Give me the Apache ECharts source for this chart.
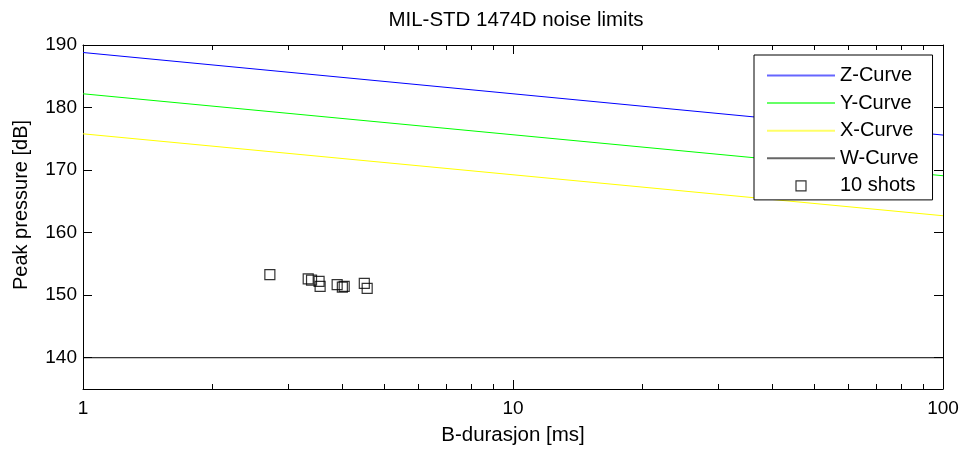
<!DOCTYPE html>
<html>
<head>
<meta charset="utf-8">
<script src="https://cdn.jsdelivr.net/npm/echarts@6/dist/echarts.min.js"></script>
<style>
html,body{margin:0;padding:0;background:#fff;}
#chart{width:963px;height:452px;}
</style>
</head>
<body>
<div id="chart"></div>
<script>
// ---- data ----
const titleText = 'MIL-STD 1474D noise limits';
const xName = 'B-durasjon [ms]';
const yName = 'Peak pressure [dB]';
const seriesNames = ['Z-Curve', 'Y-Curve', 'X-Curve', 'W-Curve', '10 shots'];
const seriesColors = ['#0000ff', '#00ff00', '#ffff00', '#000000'];
const curveX = [1, 100];
const zCurve = [188.8, 175.6];
const yCurve = [182.2, 169.1];
const xCurve = [175.8, 162.7];
const wCurve = [140, 140];
const shotsX = [2.72, 3.34, 3.40, 3.54, 3.56, 3.90, 4.01, 4.05, 4.51, 4.58];
const shotsY = [153.3, 152.6, 152.4, 152.2, 151.4, 151.7, 151.3, 151.4, 151.9, 151.1];
const xMinorTicks = [2, 3, 4, 5, 6, 7, 8, 9, 20, 30, 40, 50, 60, 70, 80, 90];
const yRange = [135, 190];
const xRange = [1, 100];

const FONT = '"Liberation Sans", Arial, Helvetica, sans-serif';
const pair = (xs, ys) => xs.map((x, i) => [x, ys[i]]);

const chart = echarts.init(document.getElementById('chart'), null, {renderer: 'canvas'});

const axisLineStyle = {color: '#000', width: 1};
const baseX = {
  type: 'log', logBase: 10, min: xRange[0], max: xRange[1],
  axisLine: {show: true, lineStyle: axisLineStyle},
  axisTick: {show: true, inside: true, length: 9, lineStyle: axisLineStyle},
  splitLine: {show: false},
  minorTick: {show: false},
  minorSplitLine: {show: false}
};
const baseY = {
  type: 'value', min: yRange[0], max: yRange[1], splitNumber: 5,
  axisLine: {show: true, lineStyle: axisLineStyle},
  axisTick: {show: true, inside: true, length: 9, lineStyle: axisLineStyle},
  splitLine: {show: false}
};

const lineSeries = (name, ys, color) => ({
  name, type: 'line', data: pair(curveX, ys), symbol: 'none',
  lineStyle: {color, width: 1}, itemStyle: {color},
  silent: true, animation: false, z: 2
});

chart.setOption({
  animation: false,
  backgroundColor: '#fff',
  textStyle: {fontFamily: FONT},
  title: {
    text: titleText, left: 516, top: 10, padding: 0, textAlign: 'center',
    textStyle: {fontFamily: FONT, fontSize: 20.5, fontWeight: 'normal', color: '#000'}
  },
  grid: {left: 83, top: 45, right: 20, bottom: 63, containLabel: false},
  xAxis: [
    Object.assign({}, baseX, {
      position: 'bottom', name: xName, nameLocation: 'middle', nameGap: 36,
      nameTextStyle: {fontFamily: FONT, fontSize: 20.5, color: '#000'},
      axisLabel: {show: true, margin: 10, color: '#000', fontFamily: FONT, fontSize: 19,
        formatter: v => String(v)}
    }),
    Object.assign({}, baseX, {position: 'top', axisLabel: {show: false}})
  ],
  yAxis: [
    Object.assign({}, baseY, {
      position: 'left', name: yName, nameLocation: 'middle', nameGap: 52,
      nameTextStyle: {fontFamily: FONT, fontSize: 20, color: '#000', padding: [0, 0, 0, 24]},
      axisLabel: {show: true, margin: 6, color: '#000', fontFamily: FONT, fontSize: 19,
        formatter: v => (v % 10 === 0 ? String(v) : '')}
    }),
    Object.assign({}, baseY, {position: 'right', axisLabel: {show: false}})
  ],
  legend: {
    left: 754, top: 55, orient: 'vertical',
    backgroundColor: '#fff', borderColor: '#000', borderWidth: 1, borderRadius: 0,
    padding: [10.5, 14, 4, 12],
    itemWidth: 68, itemHeight: 14, itemGap: 7.6,
    textStyle: {fontFamily: FONT, fontSize: 20, color: '#000', lineHeight: 20},
    selectedMode: false,
    data: seriesNames.slice(0, 4).map((n, i) => ({
      name: n,
      itemStyle: {opacity: 0},
      lineStyle: {color: seriesColors[i], width: 2, opacity: 0.6}
    })).concat([
      {name: seriesNames[4], icon: 'path://M0,0M14,14M2,2H12V12H2Z',
        itemStyle: {color: 'rgba(0,0,0,0)', borderColor: '#000', borderWidth: 1.2}}
    ])
  },
  series: [
    lineSeries(seriesNames[0], zCurve, seriesColors[0]),
    lineSeries(seriesNames[1], yCurve, seriesColors[1]),
    lineSeries(seriesNames[2], xCurve, seriesColors[2]),
    lineSeries(seriesNames[3], wCurve, seriesColors[3]),
    {
      name: seriesNames[4], type: 'scatter', data: pair(shotsX, shotsY),
      symbol: 'rect', symbolSize: 10,
      itemStyle: {color: 'rgba(0,0,0,0)', borderColor: '#000', borderWidth: 1.2},
      silent: true, z: 3
    },
    {
      name: 'minorTicks', type: 'custom', data: xMinorTicks.map(v => [v]),
      silent: true, z: 4,
      renderItem: function (params, api) {
        const v = api.value(0);
        const b = api.coord([v, yRange[0]]);
        const t = api.coord([v, yRange[1]]);
        const st = {stroke: '#000', lineWidth: 1};
        return {
          type: 'group',
          children: [
            {type: 'line', shape: {x1: Math.round(b[0]) + 0.5, y1: b[1], x2: Math.round(b[0]) + 0.5, y2: b[1] - 5}, style: st},
            {type: 'line', shape: {x1: Math.round(t[0]) + 0.5, y1: t[1], x2: Math.round(t[0]) + 0.5, y2: t[1] + 5}, style: st}
          ]
        };
      }
    }
  ]
});
</script>
</body>
</html>
